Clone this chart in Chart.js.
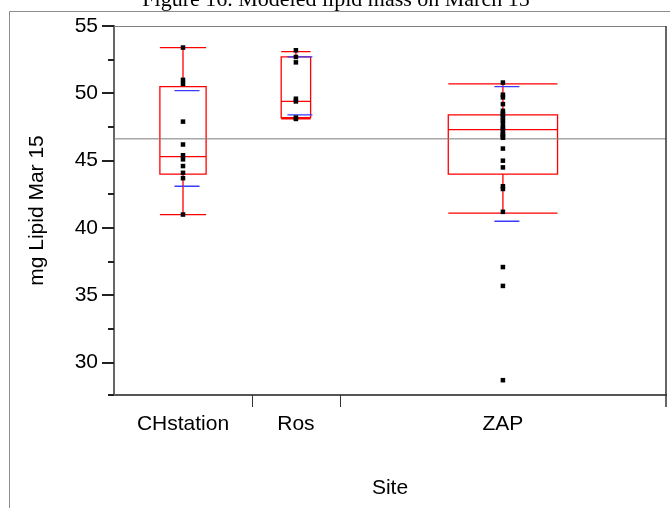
<!DOCTYPE html>
<html><head><meta charset="utf-8">
<script src="https://cdn.jsdelivr.net/npm/chart.js@4.4.1/dist/chart.umd.min.js"></script>
<style>html,body{margin:0;padding:0;background:#fff;}</style>
</head><body>
<canvas id="c" width="670" height="508"></canvas>
<script>
// ---- data ----
const figureTitle = 'Figure 16. Modeled lipid mass on March 15';
const categories = ['CHstation', 'Ros', 'ZAP'];
const counts = [11, 7, 26];
const chPoints = [53.4, 51.0, 50.7, 47.9, 46.2, 45.4, 45.1, 44.6, 44.1, 43.7, 41.0];
const rosPoints = [53.2, 52.7, 52.3, 49.6, 49.4, 48.2, 48.1];
const zapPoints = [50.8, 49.9, 49.7, 49.2, 48.7, 48.5, 48.4, 48.2, 48.0, 47.8, 47.5, 47.4, 47.2,
                   47.0, 46.9, 46.8, 46.7, 45.9, 45.0, 44.5, 43.1, 42.9, 41.2, 37.1, 35.7, 28.7];
const q1 = [44.0, 48.2, 44.0];
const medians = [45.3, 49.4, 47.3];
const q3 = [50.5, 52.7, 48.4];
const whiskerLow = [41.0, 48.1, 41.1];
const whiskerHigh = [53.4, 53.1, 50.7];
const meanMinusSd = [43.1, 48.4, 40.5];
const meanPlusSd = [50.2, 52.7, 50.5];
const grandMean = 46.62;
const yTickValues = [30, 35, 40, 45, 50, 55];
const yMinorValues = [27.5, 32.5, 37.5, 42.5, 47.5, 52.5];

// ---- derived positions on the x scale (width proportional to n) ----
const total = counts.reduce((a, b) => a + b, 0);
const bounds = [];
const centers = [];
let acc = 0;
counts.forEach(n => { centers.push(acc + n / 2); acc += n; bounds.push(acc); });
const allPoints = [chPoints, rosPoints, zapPoints];

const FONT = 'Liberation Sans, Arial, sans-serif';
const FS = 21;

const boxPlugin = {
  id: 'boxes',
  beforeDatasetsDraw(chart) {
    const {ctx, scales: {x, y}} = chart;
    ctx.save();
    categories.forEach((c, i) => {
      const cx = x.getPixelForValue(centers[i]);
      const hw = (x.getPixelForValue(counts[i] * 0.335) - x.getPixelForValue(0)) / 2;
      const yq1 = y.getPixelForValue(q1[i]), yq3 = y.getPixelForValue(q3[i]);
      const ymed = y.getPixelForValue(medians[i]);
      const ylo = y.getPixelForValue(whiskerLow[i]), yhi = y.getPixelForValue(whiskerHigh[i]);
      ctx.strokeStyle = '#ff0000';
      ctx.lineWidth = 1.3;
      ctx.beginPath();
      ctx.rect(cx - hw, yq3, 2 * hw, yq1 - yq3);
      ctx.moveTo(cx - hw, ymed); ctx.lineTo(cx + hw, ymed);
      ctx.moveTo(cx, yq3); ctx.lineTo(cx, yhi);
      ctx.moveTo(cx, yq1); ctx.lineTo(cx, ylo);
      ctx.moveTo(cx - hw, yhi); ctx.lineTo(cx + hw, yhi);
      ctx.moveTo(cx - hw, ylo); ctx.lineTo(cx + hw, ylo);
      ctx.stroke();
      // mean +/- sd lines
      ctx.strokeStyle = '#3a3aff';
      ctx.lineWidth = 1.3;
      ctx.beginPath();
      const bx = cx + 4;
      [meanMinusSd[i], meanPlusSd[i]].forEach(v => {
        const py = y.getPixelForValue(v);
        ctx.moveTo(bx - 12.5, py); ctx.lineTo(bx + 12.5, py);
      });
      ctx.stroke();
    });
    ctx.restore();
  },
  afterDraw(chart) {
    const {ctx, chartArea: a, scales: {x, y}} = chart;
    ctx.save();
    // outer figure frame
    ctx.strokeStyle = '#8c8c8c';
    ctx.lineWidth = 1;
    ctx.beginPath();
    ctx.moveTo(9.5, 508); ctx.lineTo(9.5, 11.5); ctx.lineTo(670, 11.5);
    ctx.stroke();
    // plot top and right border
    ctx.strokeStyle = '#808080';
    ctx.beginPath();
    ctx.moveTo(a.left, a.top + 0.5); ctx.lineTo(a.right, a.top + 0.5);
    ctx.stroke();
    ctx.strokeStyle = '#333';
    ctx.lineWidth = 1.5;
    ctx.beginPath();
    ctx.moveTo(a.right, a.top); ctx.lineTo(a.right, a.bottom + 12);
    ctx.stroke();
    // y ticks
    ctx.strokeStyle = '#222';
    ctx.lineWidth = 2;
    ctx.beginPath();
    yTickValues.forEach(v => { const py = Math.round(y.getPixelForValue(v)); ctx.moveTo(a.left - 12, py); ctx.lineTo(a.left, py); });
    yMinorValues.forEach(v => { const py = Math.round(Math.min(y.getPixelForValue(v), a.bottom)); ctx.moveTo(a.left - 6, py); ctx.lineTo(a.left, py); });
    ctx.stroke();
    // x category boundary ticks
    ctx.lineWidth = 1;
    ctx.strokeStyle = '#333';
    ctx.beginPath();
    bounds.slice(0, -1).forEach(v => { const px = Math.round(x.getPixelForValue(v)) + 0.5; ctx.moveTo(px, a.bottom); ctx.lineTo(px, a.bottom + 12); });
    ctx.stroke();
    // figure title (top cut off as in the reference)
    ctx.fillStyle = '#000';
    ctx.font = '22px "Liberation Serif", "Times New Roman", serif';
    ctx.textAlign = 'center';
    ctx.textBaseline = 'alphabetic';
    ctx.fillText(figureTitle, 336, 6);
    ctx.restore();
  }
};

const datasets = allPoints.map((pts, i) => ({
  type: 'scatter',
  label: categories[i],
  data: pts.map(v => ({x: centers[i], y: v})),
  pointStyle: 'rect',
  pointRadius: 3.2,
  pointBackgroundColor: '#000',
  pointBorderColor: '#000',
  pointBorderWidth: 0,
  order: 1
}));
datasets.push({
  type: 'line',
  label: 'Grand mean',
  data: [{x: 0, y: grandMean}, {x: total, y: grandMean}],
  borderColor: '#7a7a7a',
  borderWidth: 1,
  pointRadius: 0,
  order: 3
});

new Chart(document.getElementById('c'), {
  type: 'scatter',
  data: {datasets},
  plugins: [boxPlugin],
  options: {
    responsive: false,
    animation: false,
    devicePixelRatio: 1,
    layout: {padding: {top: 26, right: 1, left: 0, bottom: 0}},
    plugins: {legend: {display: false}, tooltip: {enabled: false}, title: {display: false}},
    scales: {
      x: {
        type: 'linear', min: 0, max: total,
        afterBuildTicks: s => { s.ticks = centers.map(v => ({value: v})); },
        afterFit: s => { s.height = 113; },
        ticks: {autoSkip: false, maxRotation: 0, padding: 17, color: '#000',
                font: {family: FONT, size: FS}, callback: (v, i) => categories[i]},
        grid: {display: false, drawTicks: false},
        border: {display: true, color: '#555', width: 2},
        title: {display: true, text: 'Site', color: '#000', font: {family: FONT, size: FS}, padding: {top: 0, bottom: 7}}
      },
      y: {
        min: 27.6, max: 55,
        afterFit: s => { s.width = 114; },
        ticks: {stepSize: 5, includeBounds: false, padding: 4, color: '#000', font: {family: FONT, size: FS}},
        grid: {display: true, drawOnChartArea: false, drawTicks: true, tickLength: 12, color: 'rgba(0,0,0,0)'},
        border: {display: true, color: '#666', width: 2},
        title: {display: true, text: 'mg Lipid Mar 15', color: '#000', font: {family: FONT, size: FS}, padding: {top: 25, bottom: 0}}
      }
    }
  }
});
</script>
</body></html>
